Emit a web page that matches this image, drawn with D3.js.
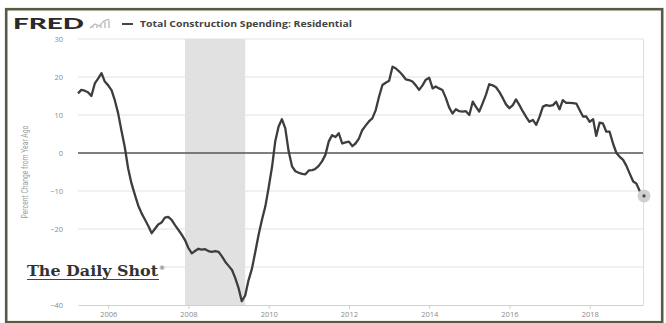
<!DOCTYPE html>
<html><head><meta charset="utf-8">
<script src="https://cdn.jsdelivr.net/npm/d3@7"></script>
<style>body{margin:0;background:#fff;}svg{display:block;}</style>
</head><body>
<svg id="c" width="666" height="323"></svg>
<script>
// ---- data ----
const startMonth = [2005, 4]; // first observation: April 2005, monthly
const values = [
15.7,16.6,16.4,16.0,15.0,18.3,19.6,21.0,18.8,17.8,16.5,14.0,
10.5,6.0,1.5,-4.0,-8.0,-11.0,-13.8,-15.9,-17.5,-19.2,-21.1,-20.0,
-18.8,-18.3,-17.0,-16.8,-17.6,-19.0,-20.2,-21.5,-22.9,-25.0,-26.4,-25.8,
-25.2,-25.4,-25.3,-25.8,-26.0,-25.8,-26.0,-27.2,-28.6,-29.7,-30.8,-32.8,
-35.5,-39.0,-37.5,-33.5,-30.5,-26.0,-21.5,-17.5,-14.1,-9.0,-3.5,3.0,
7.0,8.9,6.5,0.5,-3.5,-4.8,-5.2,-5.5,-5.6,-4.6,-4.5,-4.2,
-3.4,-2.2,-0.5,3.0,4.7,4.2,5.2,2.5,2.8,3.0,1.8,2.5,
3.8,6.0,7.2,8.3,9.1,11.3,14.8,17.9,18.5,19.0,22.7,22.3,
21.5,20.6,19.4,19.2,18.8,17.8,16.6,17.8,19.3,19.8,17.0,17.5,
17.0,16.6,14.5,12.0,10.4,11.5,11.0,10.9,11.0,10.0,13.5,12.2,
10.9,13.0,15.3,18.1,17.8,17.3,16.1,14.5,12.8,11.8,12.6,14.1,
12.6,11.0,9.5,8.2,8.7,7.4,9.5,12.2,12.6,12.4,12.6,13.5,
11.5,13.9,13.2,13.2,13.1,13.0,11.3,9.6,9.6,8.2,8.9,4.5,
8.0,7.8,5.6,5.6,2.5,0.0,-1.0,-1.8,-3.4,-5.5,-7.5,-8.0,
-10.0,-11.3
];
const gridTicks = [30,20,10,0,-10,-20,-30,-40];
const yTickLabels = [30,20,10,0,-10,-20,-40]; // -30 is hidden behind the watermark
const xTickYears = [2006,2008,2010,2012,2014,2016,2018];
const recession = [new Date(2007,11,1), new Date(2009,5,1)];
const seriesTitle = "Total Construction Spending: Residential";
const yLabel = "Percent Change from Year Ago";

const dates = values.map((v,i)=> new Date(startMonth[0], startMonth[1]-1+i, 1));
const data = values.map((v,i)=>({d:dates[i], v}));

const svg = d3.select("#c");
const L=78, R=643, T=39, B=305;

const x = d3.scaleTime().domain([dates[0], dates[dates.length-1]]).range([L,R]);
const y = d3.scaleLinear().domain([-40,30]).range([B,T]);

// outer frame
svg.append("rect").attr("x",6.2).attr("y",9.2).attr("width",656).attr("height",313)
  .attr("fill","none").attr("stroke","#5a5a44").attr("stroke-width",2.6);

// recession shading
svg.append("rect").attr("x",x(recession[0])).attr("y",T)
  .attr("width",x(recession[1])-x(recession[0])).attr("height",B-T).attr("fill","#e1e1e1");

// gridlines
svg.append("g").selectAll("line").data(gridTicks.filter(t=>t!==0 && t!==-40)).join("line")
  .attr("x1",L).attr("x2",R).attr("y1",d=>y(d)).attr("y2",d=>y(d))
  .attr("stroke","#e2e2e2").attr("stroke-width",1);
// right border
svg.append("line").attr("x1",R+0.5).attr("x2",R+0.5).attr("y1",T).attr("y2",B)
  .attr("stroke","#dedede");

// y tick labels
const yAxis = d3.axisLeft(y).tickValues(yTickLabels).tickSize(0).tickPadding(0);
const gy = svg.append("g").attr("transform",`translate(${L-15},0)`).call(yAxis);
gy.select(".domain").remove();
gy.selectAll("text").attr("fill","#8a8a8a").style("font-family","Open Sans").style("font-size","7.5px");

// x axis
const xAxis = d3.axisBottom(x).tickValues(xTickYears.map(yr=>new Date(yr,0,1)))
  .tickFormat(d3.timeFormat("%Y")).tickSize(4).tickPadding(3).tickSizeOuter(0);
const gx = svg.append("g").attr("transform",`translate(0,${B})`).call(xAxis);
gx.select(".domain").attr("stroke","#d0d0d0");
gx.selectAll(".tick line").attr("stroke","#d0d0d0");
gx.selectAll("text").attr("fill","#8a8a8a").style("font-family","Open Sans").style("font-size","7.5px");

// zero line
svg.append("line").attr("x1",L).attr("x2",R).attr("y1",y(0)).attr("y2",y(0))
  .attr("stroke","#555").attr("stroke-width",1.5);

// series line
svg.append("path").datum(data)
  .attr("d", d3.line().x(d=>x(d.d)).y(d=>y(d.v)))
  .attr("fill","none").attr("stroke","#3d3d3d").attr("stroke-width",2.3)
  .attr("stroke-linejoin","round");

// last point marker
const last = data[data.length-1];
svg.append("circle").attr("cx",x(last.d)+1).attr("cy",y(last.v)).attr("r",6.5).attr("fill","#cfcfcf");
svg.append("circle").attr("cx",x(last.d)+1).attr("cy",y(last.v)).attr("r",1.6).attr("fill","#444");

// y label
svg.append("text").attr("transform",`translate(28,${(T+B)/2}) rotate(-90)`)
  .attr("text-anchor","middle").attr("fill","#9a9a9a")
  .style("font-family","Liberation Sans Narrow, Roboto").style("font-size","8.5px")
  .attr("textLength",93).attr("lengthAdjust","spacingAndGlyphs").text(yLabel);

// header: FRED logo
svg.append("text").attr("x",13).attr("y",29).attr("fill","#2a2a2a")
  .style("font-family","Lato").style("font-weight","900").style("font-size","15px")
  .attr("textLength",71).attr("lengthAdjust","spacingAndGlyphs").text("FRED");
// small chart icon
const ic = svg.append("g").attr("fill","none").attr("stroke","#b5b5b5").attr("stroke-width",1.2);
ic.append("path").attr("d","M90,28 L95,24 L99,26 L104,21 L109,19");
[92,96,100,104,108].forEach((bx,i)=> svg.append("rect").attr("x",bx).attr("y",28-(i+1)*1.6)
  .attr("width",2).attr("height",(i+1)*1.6).attr("fill","#d0d0d0"));
// legend
svg.append("line").attr("x1",122).attr("x2",133).attr("y1",24).attr("y2",24)
  .attr("stroke","#444").attr("stroke-width",2);
svg.append("text").attr("x",140).attr("y",27).attr("fill","#444")
  .style("font-family","Open Sans").style("font-weight","700").style("font-size","8.5px")
  .attr("textLength",212).attr("lengthAdjust","spacingAndGlyphs").text(seriesTitle);

// The Daily Shot watermark
svg.append("rect").attr("x",26).attr("y",262).attr("width",136).attr("height",15).attr("fill","#fff");
svg.append("text").attr("x",27).attr("y",276).attr("fill","#333")
  .style("font-family","DejaVu Serif").style("font-weight","700").style("font-size","14px")
  .attr("textLength",131).attr("lengthAdjust","spacingAndGlyphs").text("The Daily Shot");
svg.append("text").attr("x",159).attr("y",270).attr("fill","#333")
  .style("font-family","DejaVu Serif").style("font-size","6px").text("®");
svg.append("line").attr("x1",27).attr("x2",159).attr("y1",279.5).attr("y2",279.5)
  .attr("stroke","#444").attr("stroke-width",1);
</script>
</body></html>
